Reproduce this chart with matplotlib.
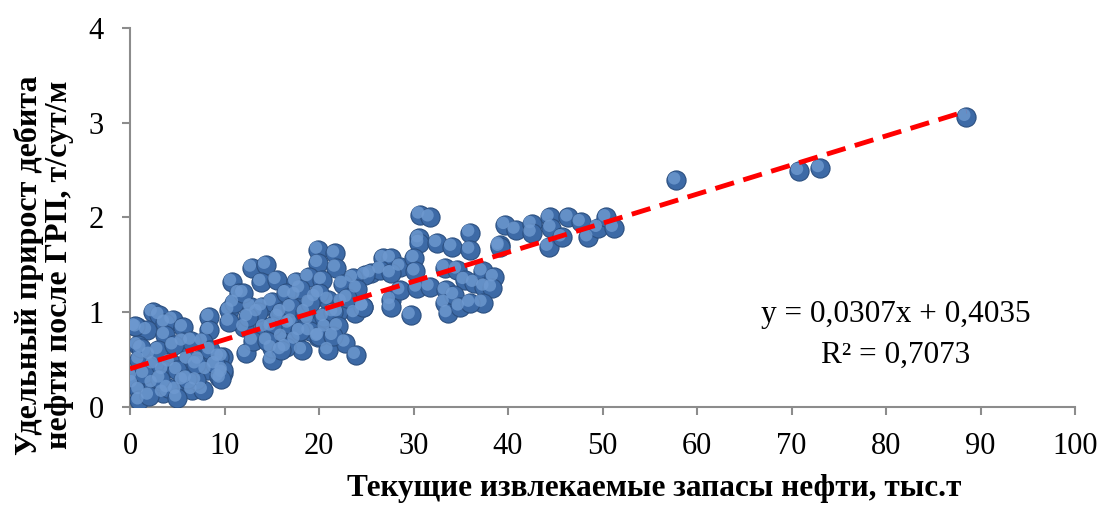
import matplotlib
matplotlib.use("Agg")
import matplotlib.pyplot as plt
import matplotlib.transforms as mtransforms
import numpy as np

# Текущие извлекаемые запасы нефти, тыс.т
reserves = [
    88.5, 70.8, 73.0, 57.8,
    39.1, 39.7, 40.8, 42.5, 42.5, 44.4, 44.6, 44.3, 45.7, 46.4, 47.7, 48.5, 49.5, 50.4, 51.2,
    30.7, 31.7, 30.6, 30.6, 32.5, 34.1, 36.0, 36.0, 39.1, 26.8, 27.6, 28.6, 30.1, 25.5, 26.5,
    27.6, 27.6, 27.6, 28.6, 29.7, 30.2, 30.4, 31.7, 33.3, 34.6, 35.4, 33.4, 33.3, 33.6, 34.3,
    34.9, 36.4, 37.3, 37.5, 38.5, 38.3, 37.3, 36.0, 24.9, 24.7,
    19.9, 21.7, 19.9, 21.8, 12.9, 14.4, 10.8, 13.9, 15.5, 17.6, 18.9, 20.3, 23.6, 10.5, 12.8,
    14.0, 15.0, 17.5, 19.6, 21.0, 22.4, 23.8, 24.7, 12.1, 14.2, 16.1, 17.5, 18.2, 19.9, 20.7,
    22.8, 23.9, 12.3, 15.0, 9.8, 9.8, 15.0, 16.5, 18.9, 17.1, 15.7,
    20.0, 22.5, 18.0, 16.0, 19.0, 21.0, 20.5, 11.5, 13.0, 16.8, 22.0, 24.0,
    11.0, 12.0, 13.5, 15.0, 16.5, 17.0, 18.5, 19.0, 21.5, 22.0, 23.0, 14.5, 16.0, 18.0, 20.0,
    21.5, 12.5, 10.5,
    2.4, 3.1, 4.5, 0.7, 1.8, 3.7, 3.7, 5.6, 5.6, 8.4, 8.4, 7.7, 0.8, 2.1, 1.0, 4.2, 6.1, 7.3,
    9.4, 9.8, 3.5, 5.0, 8.1, 0.2, 0.3, 1.0, 1.0, 3.5, 4.9, 5.6, 6.6, 7.7, 9.4, 2.4, 7.0,
    0.5, 2.5, 3.0, 4.0, 6.0, 5.0, 1.5, 2.0, 7.0, 8.5, 9.0, 6.5, 3.2, 1.2, 4.6, 9.6,
]
# Удельный прирост дебита нефти после ГРП, т/сут/м
increment = [
    3.06, 2.49, 2.52, 2.39,
    1.71, 1.92, 1.87, 1.93, 1.84, 2.00, 1.89, 1.69, 1.79, 2.00, 1.95, 1.79, 1.89, 2.00, 1.89,
    2.03, 2.00, 1.78, 1.73, 1.73, 1.69, 1.84, 1.66, 1.69, 1.57, 1.57, 1.48, 1.57, 1.41, 1.45,
    1.41, 1.13, 1.06, 1.23, 0.97, 1.43, 1.26, 1.27, 1.47, 1.45, 1.34, 1.23, 1.10, 0.99, 1.18,
    1.06, 1.31, 1.43, 1.27, 1.37, 1.26, 1.10, 1.10, 1.39, 1.06,
    1.66, 1.62, 1.52, 1.47, 1.47, 1.50, 1.32, 1.32, 1.34, 1.32, 1.37, 1.34, 1.36, 1.02, 1.06,
    1.06, 1.11, 1.18, 1.16, 1.13, 1.11, 0.99, 1.06, 0.84, 0.84, 0.74, 0.71, 0.60, 0.74, 0.84,
    0.68, 0.55, 0.57, 0.50, 0.53, 0.36, 0.62, 0.63, 0.92, 0.90, 0.95,
    1.20, 1.30, 1.25, 1.00, 0.80, 0.60, 0.95, 1.20, 0.70, 0.88, 1.00, 1.25,
    1.10, 1.20, 1.00, 0.85, 1.20, 1.05, 1.00, 1.10, 1.00, 0.85, 1.15, 0.70, 0.60, 0.80, 0.75,
    0.75, 0.95, 0.90,
    1.00, 0.97, 0.92, 0.84, 0.81, 0.89, 0.76, 0.84, 0.69, 0.95, 0.81, 0.69, 0.65, 0.55, 0.50,
    0.47, 0.50, 0.50, 0.53, 0.39, 0.39, 0.39, 0.39, 0.32, 0.25, 0.18, 0.07, 0.15, 0.18, 0.28,
    0.18, 0.18, 0.32, 0.25, 0.28,
    0.85, 0.45, 0.60, 0.20, 0.30, 0.10, 0.35, 0.12, 0.45, 0.60, 0.45, 0.70, 0.30, 0.62, 0.65, 0.30,
]

slope = 0.0307
intercept = 0.4035
r2 = 0.7073
trend_x = [0, 88.5]

x_ticks = [0, 10, 20, 30, 40, 50, 60, 70, 80, 90, 100]
y_ticks = [0, 1, 2, 3, 4]

plt.rcParams["font.family"] = ["Liberation Serif", "DejaVu Serif"]

fig = plt.figure(figsize=(11.02, 5.05), dpi=100)
ax = fig.add_axes([0.118, 0.194, 0.8575, 0.751])

# шарики: тёмная основа + светлый блик
ax.scatter(reserves, increment, s=190, color="#3D6AA6", edgecolors="#2B4F80",
           linewidths=0.8, zorder=3)
hl = mtransforms.offset_copy(ax.transData, fig=fig, x=-1.5, y=1.5, units="points")
ax.scatter(reserves, increment, s=80, color="#6F9AD0", edgecolors="none",
           alpha=0.8, transform=hl, zorder=3)

tx = np.array(trend_x)
ax.plot(tx, slope * tx + intercept, color="#FF0000", lw=3.5, ls=(0, (4, 2)),
        zorder=4)

ax.set_xlim(0, 100)
ax.set_ylim(0, 4)
ax.set_xticks(x_ticks)
ax.set_yticks(y_ticks)
ax.tick_params(axis="both", labelsize=22, color="#8C8C8C", length=6, width=1.5,
               direction="out")
ax.tick_params(axis="x", pad=12)
ax.tick_params(axis="y", pad=13)
for side in ("top", "right"):
    ax.spines[side].set_visible(False)
for side in ("left", "bottom"):
    ax.spines[side].set_color("#8C8C8C")
    ax.spines[side].set_linewidth(1.5)

ax.text(0.81, 0.243, f"y = {slope:.4f}x + {intercept:.4f}".replace(".", ","),
        transform=ax.transAxes, ha="center", va="center", fontsize=22.5)
ax.text(0.81, 0.137, f"R² = {r2:.4f}".replace(".", ","),
        transform=ax.transAxes, ha="center", va="center", fontsize=22.5)

fig.text(0.594, 0.018, "Текущие извлекаемые запасы нефти, тыс.т", ha="center",
         va="baseline", fontsize=22.5, fontweight="bold")
fig.text(0.040, 0.475, "Удельный прирост дебита\nнефти после ГРП, т/сут/м",
         ha="center", va="center", rotation=90, fontsize=23, fontweight="bold",
         linespacing=1.05)

fig.savefig("out.png", dpi=100)
